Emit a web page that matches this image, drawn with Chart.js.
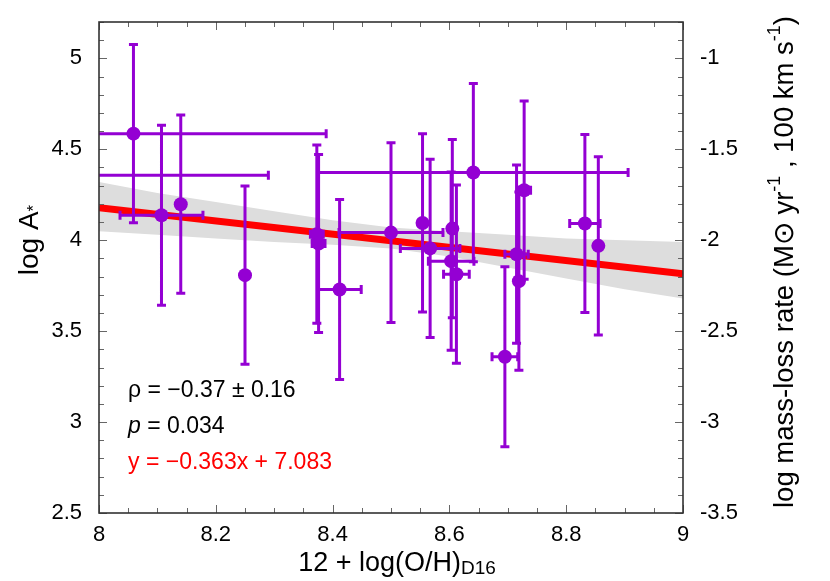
<!DOCTYPE html>
<html>
<head>
<meta charset="utf-8">
<script src="https://cdn.jsdelivr.net/npm/chart.js@4.4.1/dist/chart.umd.min.js"></script>
<style>
  html, body { margin: 0; padding: 0; background: #fff; }
  #wrap { width: 830px; height: 581px; }
</style>
</head>
<body>
<div id="wrap"><canvas id="chart" width="830" height="581"></canvas></div>
<script>
// star measurements: 12+log(O/H) vs log A*, with symmetric errors
const starX    = [7.98, 8.059, 8.107, 8.140, 8.250, 8.373, 8.376, 8.412, 8.500, 8.554, 8.567, 8.641, 8.605, 8.603, 8.612, 8.695, 8.715, 8.719, 8.728, 8.832, 8.855];
const starY    = [4.357, 4.586, 4.137, 4.198, 3.808, 4.033, 3.982, 3.729, 4.042, 4.095, 3.955, 4.372, 4.064, 3.885, 3.813, 3.359, 3.923, 3.775, 4.275, 4.092, 3.969];
const starXErr = [0.31, 0.33, 0.071, 0, 0, 0.011, 0.011, 0.037, 0.089, 0, 0.051, 0.265, 0, 0.039, 0.022, 0.022, 0.020, 0, 0.011, 0.026, 0];
const starYErr = [0.49, 0.49, 0.495, 0.49, 0.49, 0.49, 0.49, 0.495, 0.494, 0.49, 0.49, 0.49, 0.49, 0.49, 0.49, 0.495, 0.49, 0.49, 0.49, 0.49, 0.49];

// confidence band of the fit
const bandX  = [8, 8.1, 8.2, 8.3, 8.4, 8.5, 8.6, 8.7, 8.8, 8.9, 9];
const bandHi = [4.32, 4.26, 4.21, 4.16, 4.11, 4.07, 4.05, 4.03, 4.01, 4.00, 3.99];
const bandLo = [4.05, 4.03, 4.01, 3.99, 3.975, 3.955, 3.91, 3.85, 3.79, 3.73, 3.68];

// best fit line
const fitX = [8, 9];
const fitY = [4.179, 3.816];

const xTicks  = [8, 8.2, 8.4, 8.6, 8.8, 9];
const yTicks  = [2.5, 3, 3.5, 4, 4.5, 5];
const y2Ticks = [-3.5, -3, -2.5, -2, -1.5, -1];

const statText = ['ρ = −0.37 ± 0.16', '0.034', 'y = −0.363x + 7.083'];

const PURPLE = '#9400d3';
const FONT = '"Liberation Sans", Arial, Helvetica, sans-serif';

const toPts = (xs, ys) => xs.map((x, i) => ({ x: x, y: ys[i] }));

// keep the plot box where the reference has it
const noEdgePadding = (s) => {
  s.paddingTop = 0; s.paddingBottom = 0;
  s.paddingLeft = 0; s.paddingRight = 0;
};

const errorBars = {
  id: 'errorBars',
  beforeDatasetDraw(chart, args) {
    const ds = chart.data.datasets[args.index];
    if (ds.label !== 'stars') return;
    const { ctx, chartArea: a } = chart;
    const xs = chart.scales.x, ys = chart.scales.y;
    const cap = 4.5;
    ctx.save();
    ctx.beginPath();
    ctx.rect(a.left, a.top, a.right - a.left, a.bottom - a.top);
    ctx.clip();
    ctx.strokeStyle = PURPLE;
    ctx.lineWidth = 3;
    ctx.beginPath();
    starX.forEach((x, i) => {
      const px = xs.getPixelForValue(x);
      const py = ys.getPixelForValue(starY[i]);
      if (starYErr[i] > 0) {
        const t = ys.getPixelForValue(starY[i] + starYErr[i]);
        const b = ys.getPixelForValue(starY[i] - starYErr[i]);
        ctx.moveTo(px, t); ctx.lineTo(px, b);
        ctx.moveTo(px - cap, t); ctx.lineTo(px + cap, t);
        ctx.moveTo(px - cap, b); ctx.lineTo(px + cap, b);
      }
      if (starXErr[i] > 0) {
        const l = xs.getPixelForValue(x - starXErr[i]);
        const r = xs.getPixelForValue(x + starXErr[i]);
        ctx.moveTo(l, py); ctx.lineTo(r, py);
        ctx.moveTo(l, py - cap); ctx.lineTo(l, py + cap);
        ctx.moveTo(r, py - cap); ctx.lineTo(r, py + cap);
      }
    });
    ctx.stroke();
    ctx.restore();
  }
};

const frame = {
  id: 'frame',
  afterDatasetsDraw(chart) {
    const { ctx, chartArea: a } = chart;
    const xs = chart.scales.x, ys = chart.scales.y;
    ctx.save();
    ctx.strokeStyle = '#666';
    ctx.lineWidth = 1;
    ctx.beginPath();
    // x ticks, minor every 0.05, major every 0.2
    for (let k = 0; k <= 20; k++) {
      const v = 8 + k * 0.05;
      const px = Math.round(xs.getPixelForValue(v)) + 0.5;
      const len = k % 4 === 0 ? 8 : 5;
      ctx.moveTo(px, a.bottom); ctx.lineTo(px, a.bottom - len);
      ctx.moveTo(px, a.top); ctx.lineTo(px, a.top + len);
    }
    // y ticks, every 0.1
    for (let k = 0; k <= 27; k++) {
      const v = 2.5 + k * 0.1;
      const py = Math.round(ys.getPixelForValue(v)) + 0.5;
      const len = k % 5 === 0 ? 8 : 5;
      ctx.moveTo(a.left, py); ctx.lineTo(a.left + len, py);
      ctx.moveTo(a.right, py); ctx.lineTo(a.right - len, py);
    }
    ctx.stroke();
    ctx.strokeStyle = '#333';
    ctx.lineWidth = 1.6;
    ctx.strokeRect(a.left, a.top, a.right - a.left, a.bottom - a.top);

    // statistics text
    ctx.textBaseline = 'middle';
    ctx.textAlign = 'left';
    const tx = a.left + 29;
    ctx.fillStyle = '#000';
    ctx.font = '23px ' + FONT;
    ctx.fillText(statText[0], tx, 391);
    ctx.font = 'italic 23px ' + FONT;
    ctx.fillText('p', tx, 427);
    const pw = ctx.measureText('p').width;
    ctx.font = '23px ' + FONT;
    ctx.fillText(' = ' + statText[1], tx + pw, 427);
    ctx.fillStyle = '#ff0000';
    ctx.fillText(statText[2], tx, 463);
    ctx.restore();
  }
};

const axisTitles = {
  id: 'axisTitles',
  afterDraw(chart) {
    const { ctx } = chart;
    ctx.save();
    ctx.fillStyle = '#000';
    ctx.textBaseline = 'middle';
    ctx.textAlign = 'left';

    // x title with subscript
    const main = '12 + log(O/H)', sub = 'D16';
    ctx.font = '27px ' + FONT;
    const w1 = ctx.measureText(main).width;
    ctx.font = '19px ' + FONT;
    const w2 = ctx.measureText(sub).width;
    const x0 = 397 - (w1 + w2) / 2;
    ctx.font = '27px ' + FONT;
    ctx.fillText(main, x0, 564);
    ctx.font = '19px ' + FONT;
    ctx.fillText(sub, x0 + w1, 569);

    // left title
    ctx.save();
    ctx.translate(30, 240);
    ctx.rotate(-Math.PI / 2);
    ctx.font = '28px ' + FONT;
    const lw = ctx.measureText('log A').width;
    ctx.font = '17px ' + FONT;
    const sw = ctx.measureText('*').width;
    const lx = -(lw + sw) / 2;
    ctx.font = '28px ' + FONT;
    ctx.fillText('log A', lx, 0);
    ctx.font = '17px ' + FONT;
    ctx.fillText('*', lx + lw, 4);
    ctx.restore();

    // right title with superscripts
    ctx.save();
    ctx.translate(785, 262);
    ctx.rotate(-Math.PI / 2);
    const parts = [
      ['log mass-loss rate (M⊙ yr', 27.5, 0],
      ['-1', 18, -10],
      [' , 100 km s', 27.5, 0],
      ['-1', 18, -10],
      [')', 27.5, 0]
    ];
    let total = 0;
    parts.forEach(p => { ctx.font = p[1] + 'px ' + FONT; total += ctx.measureText(p[0]).width; });
    let rx = -total / 2;
    parts.forEach(p => {
      ctx.font = p[1] + 'px ' + FONT;
      ctx.fillText(p[0], rx, p[2]);
      rx += ctx.measureText(p[0]).width;
    });
    ctx.restore();
    ctx.restore();
  }
};

new Chart(document.getElementById('chart'), {
  type: 'scatter',
  data: {
    datasets: [
      {
        label: 'stars',
        data: toPts(starX, starY),
        backgroundColor: PURPLE,
        borderColor: PURPLE,
        pointRadius: 7,
        pointBorderWidth: 0,
        showLine: false,
        clip: 0,
        order: 0
      },
      {
        label: 'fit',
        data: toPts(fitX, fitY),
        showLine: true,
        borderColor: '#ff0000',
        borderWidth: 7,
        pointRadius: 0,
        order: 1
      },
      {
        label: 'band hi',
        data: toPts(bandX, bandHi),
        showLine: true,
        borderWidth: 0,
        borderColor: 'rgba(0,0,0,0)',
        backgroundColor: '#dddddd',
        pointRadius: 0,
        fill: '+1',
        order: 2
      },
      {
        label: 'band lo',
        data: toPts(bandX, bandLo),
        showLine: true,
        borderWidth: 0,
        borderColor: 'rgba(0,0,0,0)',
        pointRadius: 0,
        fill: false,
        order: 3
      }
    ]
  },
  options: {
    responsive: false,
    animation: false,
    devicePixelRatio: 1,
    layout: { padding: { top: 22, left: 0, right: 0, bottom: 0 } },
    plugins: {
      legend: { display: false },
      tooltip: { enabled: false }
    },
    scales: {
      x: {
        type: 'linear',
        min: 8,
        max: 9,
        afterBuildTicks: (s) => { s.ticks = xTicks.map(v => ({ value: v })); },
        afterFit: (s) => { s.height = 68; noEdgePadding(s); },
        grid: { display: false, drawTicks: false },
        border: { display: false },
        ticks: {
          color: '#000',
          font: { family: FONT, size: 22 },
          padding: 9,
          maxRotation: 0,
          callback: (v) => String(v)
        }
      },
      y: {
        type: 'linear',
        position: 'left',
        min: 2.5,
        max: 5.2,
        afterBuildTicks: (s) => { s.ticks = yTicks.map(v => ({ value: v })); },
        afterFit: (s) => { s.width = 99; noEdgePadding(s); },
        grid: { display: false, drawTicks: false },
        border: { display: false },
        ticks: {
          color: '#000',
          font: { family: FONT, size: 22 },
          padding: 17,
          callback: (v) => String(v)
        }
      },
      y2: {
        type: 'linear',
        position: 'right',
        min: -3.5,
        max: -0.8,
        afterBuildTicks: (s) => { s.ticks = y2Ticks.map(v => ({ value: v })); },
        afterFit: (s) => { s.width = 147; noEdgePadding(s); },
        grid: { display: false, drawTicks: false },
        border: { display: false },
        ticks: {
          color: '#000',
          font: { family: FONT, size: 22 },
          padding: 17,
          callback: (v) => String(v)
        }
      }
    }
  },
  plugins: [errorBars, frame, axisTitles]
});
</script>
</body>
</html>
